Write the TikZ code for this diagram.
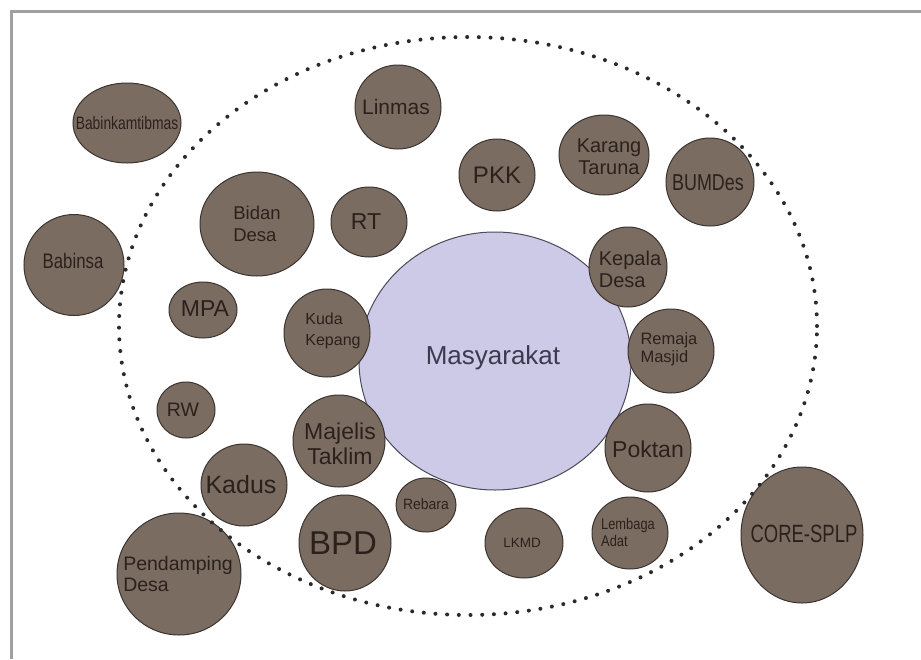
\documentclass[tikz,border=0pt]{standalone}
\usepackage{fontspec}
\setmainfont{Liberation Sans}
\usetikzlibrary{shapes.geometric}
\definecolor{bubfill}{HTML}{7B6C62}
\definecolor{bubline}{HTML}{3A3430}
\definecolor{bubtext}{HTML}{2B211C}
\definecolor{masfill}{HTML}{CCCAE6}
\definecolor{masline}{HTML}{4A4A5A}
\definecolor{mastext}{HTML}{3B3A4E}
\definecolor{dotcol}{HTML}{2A2A2A}
\definecolor{framecol}{HTML}{A0A0A0}
\begin{document}
\begin{tikzpicture}[x=1pt,y=-1pt,
  bub/.style={ellipse, draw=bubline, line width=1pt, fill=bubfill, inner sep=0pt},
  lbl/.style={text=bubtext, inner sep=0pt, align=center},
  fs/.style 2 args={font=\fontsize{#1pt}{#2pt}\selectfont},
  dotline/.style={draw=dotcol, line width=4pt, line cap=round, dash pattern=on 0pt off 11.7pt},
  frameline/.style={draw=framecol, line width=3pt}]
\useasboundingbox (0,0) rectangle (921,659);
\fill[white] (0,0) rectangle (921,659);
% frame
\coordinate (fbl) at (11.5,659);
\coordinate (ftl) at (11.5,11.5);
\coordinate (ftr) at (921,11.5);
\draw[frameline] (fbl) -- (ftl) -- (ftr);

% central
\node[ellipse, draw=masline, line width=1pt, fill=masfill, minimum width=272pt, minimum height=258pt, inner sep=0pt] (mas) at (495,361) {};
\node[text=mastext, inner sep=0pt, fs={26}{28}] (mas-t) at (493,358) {Masyarakat};

% bubbles
\node[bub, minimum width=108pt, minimum height=80pt] (babk) at (127,123) {};
\node[lbl, fs={18}{20}] (babk-t) at (babk.center) {\scalebox{0.77}[1]{Babinkamtibmas}};

\node[bub, minimum width=86pt, minimum height=84pt] (lin) at (398,107) {};
\node[lbl, fs={21}{23}] (lin-t) at (396,107) {Linmas};

\node[bub, minimum width=114pt, minimum height=104pt] (bidan) at (257,224) {};
\node[lbl, align=left, fs={18.5}{22}] (bidan-t) at (bidan.center) {Bidan\\Desa};

\node[bub, minimum width=76pt, minimum height=70pt] (rt) at (369,222) {};
\node[lbl, fs={23}{25}] (rt-t) at (366,222) {RT};

\node[bub, minimum width=100pt, minimum height=101pt] (babinsa) at (74,265) {};
\node[lbl, fs={21}{23}] (babinsa-t) at (73,261) {\scalebox{0.8}[1]{Babinsa}};

\node[bub, minimum width=68pt, minimum height=56pt] (mpa) at (203,310) {};
\node[lbl, fs={23}{25}] (mpa-t) at (205,309) {MPA};

\node[bub, minimum width=86pt, minimum height=88pt] (kuda) at (327,333) {};
\node[lbl, align=left, fs={16}{21}] (kuda-t) at (333,331) {Kuda\\Kepang};

\node[bub, minimum width=76pt, minimum height=72pt] (pkk) at (497,175) {};
\node[lbl, fs={24}{26}] (pkk-t) at (pkk.center) {PKK};

\node[bub, minimum width=90pt, minimum height=80pt] (karang) at (604,155) {};
\node[lbl, fs={20}{22}] (karang-t) at (609,157) {Karang\\Taruna};

\node[bub, minimum width=88pt, minimum height=88pt] (bum) at (710,182) {};
\node[lbl, fs={23}{25}] (bum-t) at (708,183) {\scalebox{0.78}[1]{BUMDes}};

\node[bub, minimum width=78pt, minimum height=80pt] (kepala) at (628,267) {};
\node[lbl, align=left, fs={20}{22}] (kepala-t) at (630,269) {Kepala\\Desa};

\node[bub, minimum width=86pt, minimum height=84pt] (remaja) at (671,351) {};
\node[lbl, align=left, fs={16.5}{18}] (remaja-t) at (669,349) {Remaja\\Masjid};

\node[bub, minimum width=86pt, minimum height=88pt] (poktan) at (648,448) {};
\node[lbl, fs={23}{25}] (poktan-t) at (648,449) {Poktan};

\node[bub, minimum width=76pt, minimum height=72pt] (lembaga) at (630,533) {};
\node[lbl, align=left, fs={15.5}{17}] (lembaga-t) at (628,532) {\scalebox{0.83}[1]{Lembaga}\\\scalebox{0.83}[1]{Adat}};

\node[bub, minimum width=78pt, minimum height=70pt] (lkmd) at (524,543) {};
\node[lbl, fs={13.5}{15}] (lkmd-t) at (522,543) {LKMD};

\node[bub, minimum width=122pt, minimum height=136pt] (core) at (802,535) {};
\node[lbl, fs={25}{27}] (core-t) at (804,534) {\scalebox{0.74}[1]{CORE-SPLP}};

\node[bub, minimum width=58pt, minimum height=56pt] (rw) at (186,410) {};
\node[lbl, fs={19.5}{21}] (rw-t) at (183,410) {RW};

\node[bub, minimum width=86pt, minimum height=82pt] (kadus) at (244,485) {};
\node[lbl, fs={25}{27}] (kadus-t) at (241,485) {Kadus};

\node[bub, minimum width=92pt, minimum height=92pt] (majelis) at (339,441) {};
\node[lbl, fs={23}{25}] (majelis-t) at (340,444) {Majelis\\Taklim};

\node[bub, minimum width=60pt, minimum height=54pt] (rebara) at (426,505) {};
\node[lbl, fs={15}{17}] (rebara-t) at (426,504) {\scalebox{0.93}[1]{Rebara}};

\node[bub, minimum width=92pt, minimum height=96pt] (bpd) at (345,543) {};
\node[lbl, fs={33}{35}] (bpd-t) at (343,543) {BPD};

\node[bub, minimum width=124pt, minimum height=122pt] (pend) at (179,574) {};
\node[lbl, align=left, fs={19.5}{21}] (pend-t) at (178,574) {Pendamping\\Desa};

% dotted boundary
\node[ellipse, dotline, minimum width=698pt, minimum height=578pt, inner sep=0pt] (ring) at (468,326) {};
\end{tikzpicture}
\end{document}
